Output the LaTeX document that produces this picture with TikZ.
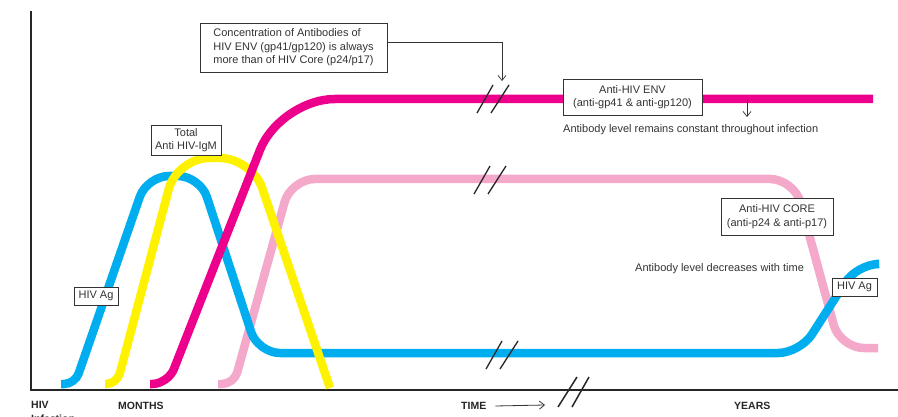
\documentclass[tikz,border=0pt]{standalone}
\usepackage{fontspec}
\setmainfont{Liberation Sans}
\usetikzlibrary{arrows.meta,positioning}

\definecolor{agblue}{HTML}{00AEEF}
\definecolor{igmyellow}{HTML}{FFF200}
\definecolor{envmagenta}{HTML}{EC008C}
\definecolor{corepink}{HTML}{F4A9CB}
\definecolor{inkgray}{HTML}{333333}

\begin{document}
\begin{tikzpicture}[x=1pt, y=-1pt,
    curve/.style={line width=8.5pt},
    labelbox/.style={draw=inkgray, fill=white, line width=0.8pt, inner sep=2pt,
      align=center, text=inkgray, font=\fontsize{11}{13.5}\selectfont},
    note/.style={text=inkgray, inner sep=0pt, font=\fontsize{11}{13}\selectfont},
    axislabel/.style={text=black!85, inner sep=0pt, align=left,
      font=\fontsize{10.5}{14}\selectfont\bfseries},
    pointer/.style={draw=inkgray, line width=0.7pt, -{Straight Barb[length=5pt,width=8pt]}},
    breakmark/.style={draw=black!85, line width=1.3pt}]

    \useasboundingbox (0,0) rectangle (898,417);

    % axes
    \draw [black!85, line width=1.6pt] (31,11) -- (31,390) -- (898,390);

    % the four curves, back to front
    \draw [curve, corepink] (218,384) [rounded corners=12pt] -- (234,384)
        [rounded corners=24pt] -- (291,179) -- (794,179) -- (840,348) -- (878,348);
    \draw [curve, agblue] (61,384) [rounded corners=11pt] -- (75,384)
        [rounded corners=22pt] -- (147,176) -- (200,176) -- (258,353) -- (800,353)
        -- (857,264) -- (876,264);
    \draw [curve, igmyellow] (105,384) [rounded corners=11pt] -- (117,384)
        [rounded corners=32pt] -- (177,158) -- (252,158) -- (330,388);
    \draw [curve, envmagenta] (150,384) [rounded corners=16pt] -- (168,384)
        [rounded corners=55pt] -- (280,99) -- (873,99);

    % breaks in the time scale
    \foreach \bx/\by in {493/99, 490/180, 502/355}
    {
        \draw [breakmark] (\bx-16,\by+14) -- (\bx,\by-14);
        \draw [breakmark] (\bx-2,\by+14) -- (\bx+16,\by-14);
    }
    \draw [breakmark, line width=1.5pt] (558,407) -- (577,377);
    \draw [breakmark, line width=1.5pt] (572,407) -- (589,377);

    % boxes on the curves
    \node [labelbox, align=left, minimum width=187pt, minimum height=49pt] (concbox)
        at (293.5,47.5)
        {Concentration of Antibodies of\\HIV ENV (gp41/gp120) is always\\more than of HIV Core (p24/p17)};
    \node [labelbox, minimum width=139pt, minimum height=36pt] (envbox) at (632.5,97)
        {Anti-HIV ENV\\(anti-gp41 \& anti-gp120)};
    \node [labelbox, minimum width=70pt, minimum height=30pt] (igmbox) at (186,140)
        {Total\\Anti HIV-IgM};
    \node [labelbox, minimum width=44pt, minimum height=18pt] (agleft) at (96,296) {HIV Ag};
    \node [labelbox, minimum width=112pt, minimum height=37pt] (corebox) at (777,216.5)
        {Anti-HIV CORE\\(anti-p24 \& anti-p17)};
    \node [labelbox, minimum width=45pt, minimum height=18pt] (agright) at (854.5,287) {HIV Ag};

    % notes
    \node [note, anchor=west] (envnote) at (563,130)
        {Antibody level remains constant throughout infection};
    \node [note, anchor=west] (corenote) at (635,269) {Antibody level decreases with time};

    % pointers
    \coordinate (conctip) at (502,81);
    \draw [pointer] ([yshift=5.5pt]concbox.east) -| (conctip);
    \coordinate (envdrop) at (747,100);
    \coordinate (envtip) at (747,117);
    \draw [pointer] (envdrop) -- (envtip);

    % time axis labels
    \node [axislabel, anchor=north west] (infection) at (31,401) {HIV\\Infection};
    \node [axislabel, anchor=west] (months) at (118,406) {MONTHS};
    \node [axislabel, anchor=west] (time) at (461,406) {TIME};
    \node [axislabel, anchor=west] (years) at (734,406) {YEARS};
    \coordinate (timeend) at (545,405);
    \draw [pointer, line width=0.8pt] ([xshift=9pt]time.east) -- (timeend);
\end{tikzpicture}
\end{document}
